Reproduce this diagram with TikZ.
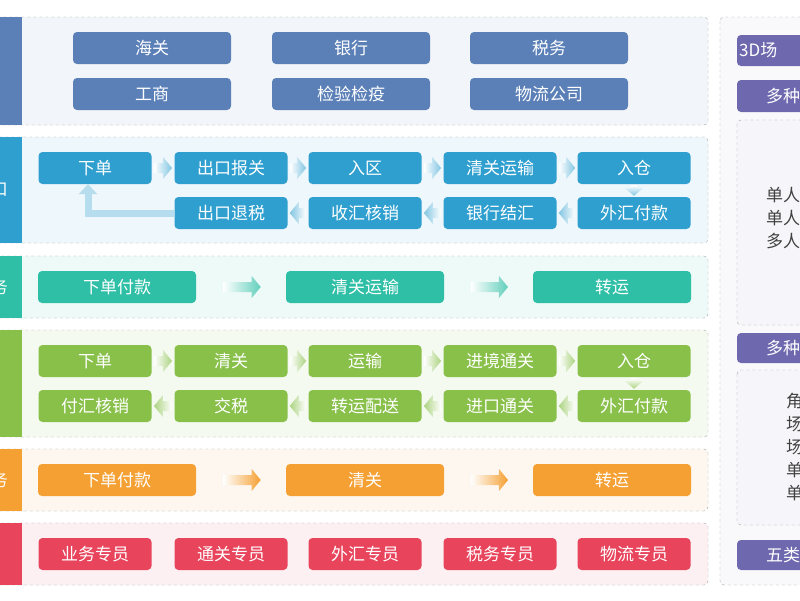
\documentclass[tikz,border=0pt]{standalone}
\usepackage{fontspec}
\setmainfont{Noto Sans CJK SC}
\usetikzlibrary{calc,arrows.meta}
\definecolor{cA}{HTML}{5B80B8}
\definecolor{cB}{HTML}{2F9FCF}
\definecolor{cC}{HTML}{2EBFA6}
\definecolor{cD}{HTML}{88C04A}
\definecolor{cE}{HTML}{F5A033}
\definecolor{cF}{HTML}{E8445C}
\definecolor{cP}{HTML}{6E69AE}
\tikzset{
 box/.style={draw=none,fill=#1,rounded corners=4pt,text=white,font=\fontsize{17}{18}\selectfont,inner sep=0pt},
 panel/.style={draw=gray!70,dashed,fill=#1,rounded corners=4pt},
 bar/.style={fill=#1,draw=none},
 side/.style={text=white,font=\fontsize{17}{18}\selectfont,anchor=east,inner sep=0pt},
 ptxt/.style={text=black!75,font=\fontsize{17}{18}\selectfont,anchor=west,inner sep=0pt},
 htxt/.style={text=white,font=\fontsize{17}{18}\selectfont,anchor=west,inner sep=0pt},
}
\newcommand{\rarr}[5]{\shade[left color=white,right color=#5]
 ($(#1.east)!#3!(#2.west)+(0,-5)$) -- ($(#1.east)!#4!(#2.west)+(-9,-5)$) -- ($(#1.east)!#4!(#2.west)+(-9,-11)$) -- ($(#1.east)!#4!(#2.west)$) -- ($(#1.east)!#4!(#2.west)+(-9,11)$) -- ($(#1.east)!#4!(#2.west)+(-9,5)$) -- ($(#1.east)!#3!(#2.west)+(0,5)$) -- cycle;}
\newcommand{\larr}[3]{\shade[right color=white,left color=#3]
 ($(#1.west)!0.1!(#2.east)+(0,-5)$) -- ($(#1.west)!0.9!(#2.east)+(9,-5)$) -- ($(#1.west)!0.9!(#2.east)+(9,-11)$) -- ($(#1.west)!0.9!(#2.east)$) -- ($(#1.west)!0.9!(#2.east)+(9,11)$) -- ($(#1.west)!0.9!(#2.east)+(9,5)$) -- ($(#1.west)!0.1!(#2.east)+(0,5)$) -- cycle;}
\begin{document}
\begin{tikzpicture}[x=1pt,y=-1pt]
\useasboundingbox (0,0) rectangle (800,600);
\clip (0,0) rectangle (800,600);
\fill[white] (0,0) rectangle (800,600);
% panels
\draw[panel=cA!8] (-10,17) rectangle (708,125);
\draw[panel=cB!8] (-10,137) rectangle (708,243);
\draw[panel=cC!8] (-10,256) rectangle (708,318);
\draw[panel=cD!8] (-10,330) rectangle (708,437);
\draw[panel=cE!8] (-10,449) rectangle (708,511);
\draw[panel=cF!8] (-10,523) rectangle (708,585);
\fill[bar=cA] (-10,17) rectangle (22,125);
\fill[bar=cB] (-10,137) rectangle (22,243);
\fill[bar=cC] (-10,256) rectangle (22,318);
\fill[bar=cD] (-10,330) rectangle (22,437);
\fill[bar=cE] (-10,449) rectangle (22,511);
\fill[bar=cF] (-10,523) rectangle (22,585);
\node[side] (s2) at (8,190) {口};
\node[side] (s3) at (8,287) {务};
\node[side] (s5) at (8,480) {务};
% row 1
\foreach \n/\t/\x/\y in {a1/海关/152/48,a2/银行/351/48,a3/税务/549/48,a4/工商/152/94,a5/检验检疫/351/94,a6/物流公司/549/94}
  \node[box=cA,minimum width=158pt,minimum height=32pt] (\n) at (\x,\y) {\t};
% row 2
\foreach \n/\t/\x/\y in {b1/下单/95/168,b2/出口报关/231/168,b3/入区/365/168,b4/清关运输/500/168,b5/入仓/634/168,
  b6/出口退税/231/213,b7/收汇核销/365/213,b8/银行结汇/500/213,b9/外汇付款/634/213}
  \node[box=cB,minimum width=113pt,minimum height=32pt] (\n) at (\x,\y) {\t};
\rarr{b1}{b2}{0.1}{0.9}{cB!60}
\rarr{b2}{b3}{0.1}{0.9}{cB!60}
\rarr{b3}{b4}{0.1}{0.9}{cB!60}
\rarr{b4}{b5}{0.1}{0.9}{cB!60}
\larr{b9}{b8}{cB!60}
\larr{b8}{b7}{cB!60}
\larr{b7}{b6}{cB!60}
\shade[top color=white,bottom color=cB!60] ($(b5.south)+(-3,1)$) -- ($(b5.south)+(3,1)$) -- ($(b5.south)+(3,4)$) -- ($(b5.south)+(9,4)$) -- ($(b9.north)+(0,-1)$) -- ($(b5.south)+(-9,4)$) -- ($(b5.south)+(-3,4)$) -- cycle;
\draw[line width=7pt,cB!35,-{Triangle[width=18pt,length=10pt]}] (b6.west) -| ($(b1.south)+(-7,0)$);
% row 3
\foreach \n/\t/\x in {c1/下单付款/117,c2/清关运输/365,c3/转运/612}
  \node[box=cC,minimum width=158pt,minimum height=32pt] (\n) at (\x,287) {\t};
\rarr{c1}{c2}{0.3}{0.72}{cC!75}
\rarr{c2}{c3}{0.3}{0.72}{cC!75}
% row 4
\foreach \n/\t/\x/\y in {d1/下单/95/361,d2/清关/231/361,d3/运输/365/361,d4/进境通关/500/361,d5/入仓/634/361,
  d6/付汇核销/95/406,d7/交税/231/406,d8/转运配送/365/406,d9/进口通关/500/406,d10/外汇付款/634/406}
  \node[box=cD,minimum width=113pt,minimum height=32pt] (\n) at (\x,\y) {\t};
\rarr{d1}{d2}{0.1}{0.9}{cD!70}
\rarr{d2}{d3}{0.1}{0.9}{cD!70}
\rarr{d3}{d4}{0.1}{0.9}{cD!70}
\rarr{d4}{d5}{0.1}{0.9}{cD!70}
\larr{d10}{d9}{cD!70}
\larr{d9}{d8}{cD!70}
\larr{d8}{d7}{cD!70}
\larr{d7}{d6}{cD!70}
\shade[top color=white,bottom color=cD!70] ($(d5.south)+(-3,1)$) -- ($(d5.south)+(3,1)$) -- ($(d5.south)+(3,4)$) -- ($(d5.south)+(9,4)$) -- ($(d10.north)+(0,-1)$) -- ($(d5.south)+(-9,4)$) -- ($(d5.south)+(-3,4)$) -- cycle;
% row 5
\foreach \n/\t/\x in {e1/下单付款/117,e2/清关/365,e3/转运/612}
  \node[box=cE,minimum width=158pt,minimum height=32pt] (\n) at (\x,480) {\t};
\rarr{e1}{e2}{0.3}{0.72}{cE}
\rarr{e2}{e3}{0.3}{0.72}{cE}
% row 6
\foreach \n/\t/\x in {f1/业务专员/95,f2/通关专员/231,f3/外汇专员/365,f4/税务专员/500,f5/物流专员/634}
  \node[box=cF,minimum width=113pt,minimum height=32pt] (\n) at (\x,554) {\t};
% right panel
\draw[panel=cP!4] (720,17) rectangle (830,585);
\fill[cP,rounded corners=4pt] (737,35) rectangle (830,66);
\node[htxt] (h1) at (739,50) {3D场};
\fill[cP,rounded corners=4pt] (737,80) rectangle (830,112);
\node[htxt] (h2) at (766,96) {多种};
\draw[panel=cP!6] (737,120) rectangle (830,325);
\node[ptxt] (t1) at (766,195) {单人};
\node[ptxt] (t2) at (766,218) {单人};
\node[ptxt] (t3) at (766,241) {多人};
\fill[cP,rounded corners=4pt] (737,333) rectangle (830,363);
\node[htxt] (h3) at (766,348) {多种};
\draw[panel=cP!6] (737,370) rectangle (830,525);
\node[ptxt] (u1) at (786,401) {角};
\node[ptxt] (u2) at (786,424) {场};
\node[ptxt] (u3) at (786,447) {场};
\node[ptxt] (u4) at (786,470) {单};
\node[ptxt] (u5) at (786,493) {单};
\fill[cP,rounded corners=4pt] (737,540) rectangle (830,570);
\node[htxt] (h4) at (766,555) {五类};
\end{tikzpicture}
\end{document}
